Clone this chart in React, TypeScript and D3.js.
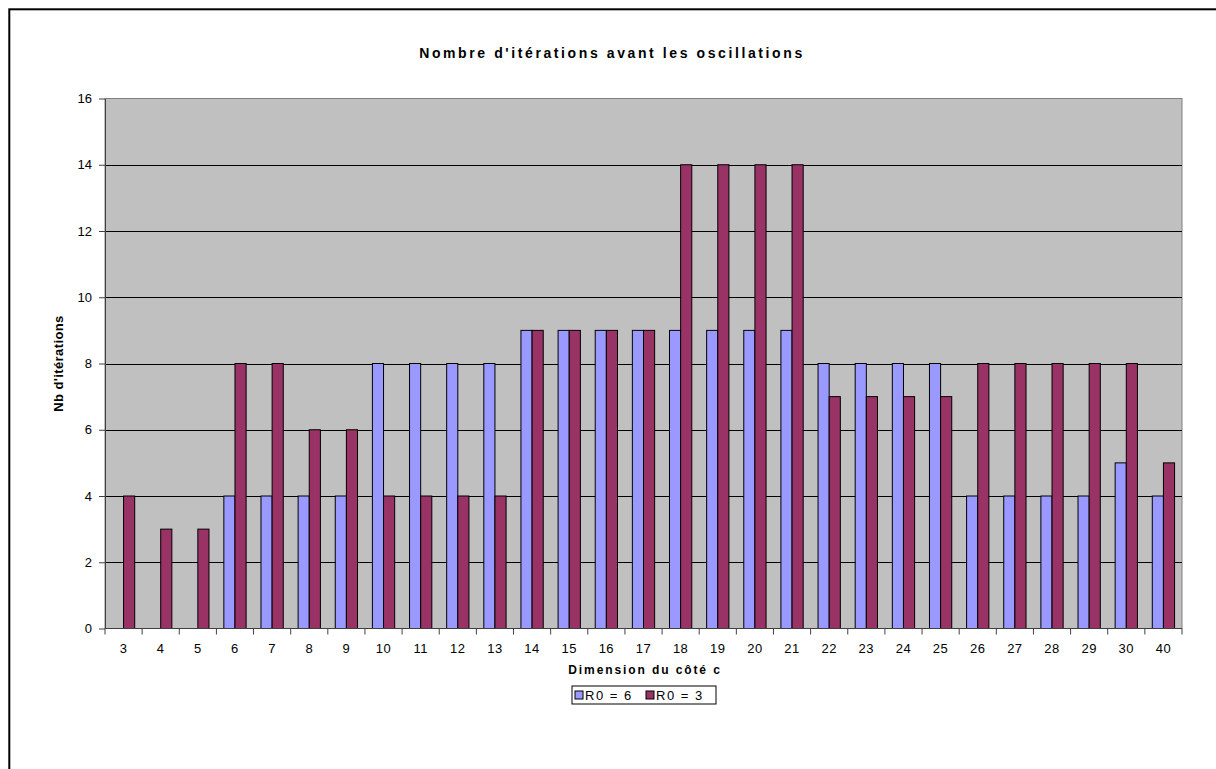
import React, { useRef, useEffect } from 'react';
import * as d3 from 'd3';

// Dimension du côté c
const categories = ['3', '4', '5', '6', '7', '8', '9', '10', '11', '12', '13', '14', '15', '16', '17', '18', '19', '20', '21', '22', '23', '24', '25', '26', '27', '28', '29', '30', '40'];
// Nb d'itérations for R0 = 6
const seriesR6 = [0, 0, 0, 4, 4, 4, 4, 8, 8, 8, 8, 9, 9, 9, 9, 9, 9, 9, 9, 8, 8, 8, 8, 4, 4, 4, 4, 5, 4];
// Nb d'itérations for R0 = 3
const seriesR3 = [4, 3, 3, 8, 8, 6, 6, 4, 4, 4, 4, 9, 9, 9, 9, 14, 14, 14, 14, 7, 7, 7, 7, 8, 8, 8, 8, 8, 5];
const seriesNames = ['R0 = 6', 'R0 = 3'];
const yTicks = [0, 2, 4, 6, 8, 10, 12, 14, 16];

const colors = ['#9999FF', '#993366'];

const App = () => {
  const svgRef = useRef<SVGSVGElement | null>(null);

  useEffect(() => {
    const svg = d3.select(svgRef.current);
    svg.selectAll('*').remove();

    const W = 1216;
    const H = 769;
    const margin = { top: 98.5, left: 105, right: 1182, bottom: 628.5 };
    const font = 'Arial, "Liberation Sans", sans-serif';

    svg.attr('width', W).attr('height', H);

    svg.append('rect').attr('width', W).attr('height', H).attr('fill', '#ffffff');

    // outer frame (goes past the right and bottom edges)
    svg.append('rect')
      .attr('x', 9.3).attr('y', 9.3)
      .attr('width', 1400).attr('height', 1000)
      .attr('fill', 'none')
      .attr('stroke', '#000')
      .attr('stroke-width', 2);

    const x0 = d3.scaleBand()
      .domain(categories)
      .range([margin.left, margin.right])
      .padding(0);

    const x1 = d3.scaleBand()
      .domain(seriesNames)
      .range([x0.bandwidth() * 0.2, x0.bandwidth() * 0.8])
      .padding(0);

    const y = d3.scaleLinear()
      .domain([0, 16])
      .range([margin.bottom, margin.top]);

    // plot background
    svg.append('rect')
      .attr('x', margin.left).attr('y', margin.top)
      .attr('width', margin.right - margin.left)
      .attr('height', margin.bottom - margin.top)
      .attr('fill', '#C0C0C0')
      .attr('stroke', '#808080')
      .attr('stroke-width', 1);

    // gridlines
    svg.append('g')
      .selectAll('line')
      .data(yTicks.filter(d => d > 0 && d < 16))
      .enter().append('line')
      .attr('x1', margin.left).attr('x2', margin.right)
      .attr('y1', d => Math.round(y(d)) + 0.5)
      .attr('y2', d => Math.round(y(d)) + 0.5)
      .attr('stroke', '#000')
      .attr('stroke-width', 1);

    // bars
    const data = categories.map((c, i) => ({ c, values: [seriesR6[i], seriesR3[i]] }));
    const groups = svg.append('g')
      .selectAll('g')
      .data(data)
      .enter().append('g')
      .attr('transform', d => `translate(${x0(d.c)},0)`);

    groups.selectAll('rect')
      .data(d => d.values.map((v, k) => ({ v, k })).filter(e => e.v > 0))
      .enter().append('rect')
      .attr('x', d => x1(seriesNames[d.k]) as number)
      .attr('width', x1.bandwidth())
      .attr('y', d => y(d.v))
      .attr('height', d => y(0) - y(d.v))
      .attr('fill', d => colors[d.k])
      .attr('stroke', '#000')
      .attr('stroke-width', 1);

    // y axis
    const yAxis = svg.append('g')
      .attr('transform', `translate(${margin.left},0)`)
      .call(d3.axisLeft(y).tickValues(yTicks).tickSize(6).tickSizeOuter(0).tickPadding(7));
    yAxis.select('.domain').attr('stroke', '#404040');
    yAxis.selectAll('.tick line').attr('stroke', '#404040');
    yAxis.selectAll('text')
      .attr('font-family', font)
      .attr('font-size', 13)
      .attr('fill', '#000');

    // x axis: ticks at category boundaries
    const xAxis = svg.append('g')
      .attr('transform', `translate(0,${margin.bottom})`);
    xAxis.append('line')
      .attr('x1', margin.left).attr('x2', margin.right)
      .attr('stroke', '#404040');
    xAxis.selectAll('.xt')
      .data(categories)
      .enter().append('line')
      .attr('class', 'xt')
      .attr('x1', d => (x0(d) as number) + x0.bandwidth())
      .attr('x2', d => (x0(d) as number) + x0.bandwidth())
      .attr('y1', 0).attr('y2', 6)
      .attr('stroke', '#404040');
    xAxis.append('line')
      .attr('x1', margin.left).attr('x2', margin.left)
      .attr('y1', 0).attr('y2', 6)
      .attr('stroke', '#404040');
    xAxis.selectAll('.xl')
      .data(categories)
      .enter().append('text')
      .attr('class', 'xl')
      .attr('x', d => (x0(d) as number) + x0.bandwidth() / 2)
      .attr('y', 24)
      .attr('text-anchor', 'middle')
      .attr('font-family', font)
      .attr('font-size', 13)
      .attr('letter-spacing', 0.5)
      .text(d => d);

    // titles
    svg.append('text')
      .attr('x', 612).attr('y', 58)
      .attr('text-anchor', 'middle')
      .attr('font-family', font)
      .attr('font-size', 14)
      .attr('font-weight', 'bold')
      .attr('letter-spacing', 2.6)
      .text("Nombre d'itérations avant les oscillations");

    svg.append('text')
      .attr('x', 645).attr('y', 674)
      .attr('text-anchor', 'middle')
      .attr('font-family', font)
      .attr('font-size', 12)
      .attr('font-weight', 'bold')
      .attr('letter-spacing', 1.9)
      .text('Dimension du côté c');

    svg.append('text')
      .attr('transform', `translate(63,${(margin.top + margin.bottom) / 2}) rotate(-90)`)
      .attr('text-anchor', 'middle')
      .attr('font-family', font)
      .attr('font-size', 13)
      .attr('font-weight', 'bold')
      .attr('letter-spacing', 0.4)
      .text("Nb d'itérations");

    // legend
    const lg = svg.append('g').attr('transform', 'translate(572,686)');
    lg.append('rect')
      .attr('width', 144).attr('height', 18)
      .attr('fill', '#fff')
      .attr('stroke', '#000');
    const items = lg.selectAll('g')
      .data(seriesNames)
      .enter().append('g')
      .attr('transform', (d, i) => `translate(${i === 0 ? 3 : 74},0)`);
    items.append('rect')
      .attr('x', 0).attr('y', 5)
      .attr('width', 8).attr('height', 8)
      .attr('fill', (d, i) => colors[i])
      .attr('stroke', '#000');
    items.append('text')
      .attr('x', 10).attr('y', 14)
      .attr('font-family', font)
      .attr('font-size', 13)
      .attr('letter-spacing', 1.5)
      .text(d => d);
  }, []);

  return (
    <svg ref={svgRef} style={{ position: 'absolute', left: 0, top: 0, display: 'block' }}></svg>
  );
};

export default App;
